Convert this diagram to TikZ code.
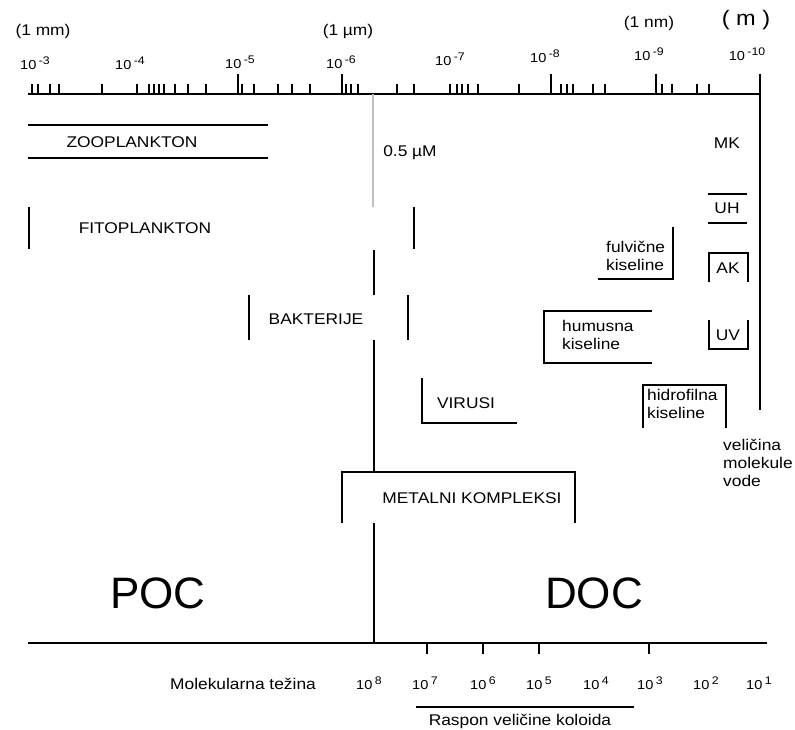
\documentclass[tikz,border=0pt]{standalone}
\usepackage{fontspec}
\setmainfont{Liberation Sans}[FakeStretch=1.12]
\newfontfamily\bigfont{Liberation Sans}
\newcommand{\tenpow}[1]{{\fontsize{13}{15}\selectfont 10}\hspace{2.5pt}\raisebox{5pt}{\fontsize{11}{13}\selectfont #1}}
\begin{document}
\begin{tikzpicture}[x=1pt,y=-1pt,
  ln/.style={line width=1.5pt,line cap=butt},
  thin/.style={line width=1.1pt},
  lbl/.style={inner sep=0pt,font=\fontsize{15.5}{18}\selectfont,align=left},
  tick/.style={inner sep=0pt},
  big/.style={inner sep=0pt,font=\bigfont\fontsize{44}{48}\selectfont}]
\useasboundingbox (0,0) rectangle (795,730);
% ---------- top axis ----------
\coordinate (ta0) at (28,94);
\coordinate (ta1) at (760,94);
\draw[ln] (ta0) -- (ta1);
\foreach \x in {32,38,50,59,102,137,149,154,159,164,175,188,206,242,254,278,292,310,346,351,358,397,414,450,457,462,468,478,519,561,567,573,593,605,662,672,697,709}
  \draw[thin] (\x,84) -- (\x,94);
\foreach \x in {238,342,551,656}
  \draw[thin] (\x,74) -- (\x,94);
\node[tick] (t3) at (35,63) {\tenpow{-3}};
\node[tick] (t4) at (130,63) {\tenpow{-4}};
\node[tick] (t5) at (240,62) {\tenpow{-5}};
\node[tick] (t6) at (341,62) {\tenpow{-6}};
\node[tick] (t7) at (450,59) {\tenpow{-7}};
\node[tick] (t8) at (545,56) {\tenpow{-8}};
\node[tick] (t9) at (649,54) {\tenpow{-9}};
\node[tick] (t10) at (747,54) {\tenpow{-10}};
\node[lbl] (mm) at (43,31) {(1 mm)};
\node[lbl] (um) at (348,31) {(1 µm)};
\node[lbl] (nm) at (649,23) {(1 nm)};
\node[lbl,font=\fontsize{21}{24}\selectfont] (munit) at (746,20) {( m )};
% ---------- right end line ----------
\coordinate (r0) at (760,74);
\coordinate (r1) at (760,410);
\draw[ln] (r0) -- (r1);
% ---------- central line ----------
\draw[line width=2.6pt,black!25] (373,94) -- (373,207);
\node[lbl] (half) at (410,153) {0.5 µM};
\draw[ln] (374,250) -- (374,295);
\draw[ln] (374,340) -- (374,472);
\draw[ln] (374,523) -- (374,643);
% ---------- organisms ----------
\node[lbl] (zoo) at (132,142) {ZOOPLANKTON};
\draw[ln] (28,125) -- (268,125);
\draw[ln] (28,158) -- (268,158);
\node[lbl] (fito) at (145,228) {FITOPLANKTON};
\draw[ln] (29,207) -- (29,249);
\draw[ln] (414,207) -- (414,249);
\node[lbl] (bakt) at (316,319) {BAKTERIJE};
\draw[ln] (249,295) -- (249,340);
\draw[ln] (408,295) -- (408,340);
\node[lbl] (vir) at (466,403) {VIRUSI};
\draw[ln] (422,378) -- (422,423) -- (517,423);
\node[lbl] (met) at (472,498) {METALNI KOMPLEKSI};
\draw[ln] (342,523) -- (342,472) -- (575,472) -- (575,523);
% ---------- dissolved compounds ----------
\node[lbl,anchor=west] (ful) at (606,256) {fulvične\\kiseline};
\draw[ln] (673,227) -- (673,279) -- (598,279);
\node[lbl,anchor=west] (hum) at (562,335) {humusna\\kiseline};
\draw[ln] (652,311) -- (544,311) -- (544,363) -- (652,363);
\node[lbl,anchor=west] (hid) at (647,404) {hidrofilna\\kiseline};
\draw[ln] (643,428) -- (643,385) -- (726,385) -- (726,428);
\node[lbl,anchor=west] (voda) at (723,463) {veličina\\molekule\\vode};
\node[lbl] (mk) at (727,143) {MK};
\node[lbl] (uh) at (727,208) {UH};
\draw[ln] (708,194) -- (747,194);
\draw[ln] (708,223) -- (747,223);
\node[lbl] (ak) at (728,268) {AK};
\draw[ln] (709,282) -- (709,253) -- (748,253) -- (748,282);
\node[lbl] (uv) at (728,335) {UV};
\draw[ln] (709,320) -- (709,349) -- (748,349) -- (748,320);
% ---------- POC / DOC ----------
\node[big] (poc) at (158,593) {POC};
\node[big] (doc) at (594,593) {DOC};
% ---------- bottom axis ----------
\coordinate (ba0) at (28,643);
\coordinate (ba1) at (767,643);
\draw[ln] (ba0) -- (ba1);
\foreach \x in {427,483,539,649}
  \draw[thin] (\x,643) -- (\x,654);
\node[lbl] (mw) at (243,684) {Molekularna težina};
\node[tick] (b8) at (369,683) {\tenpow{8}};
\node[tick] (b7) at (425,683) {\tenpow{7}};
\node[tick] (b6) at (483,683) {\tenpow{6}};
\node[tick] (b5) at (539,683) {\tenpow{5}};
\node[tick] (b4) at (596,683) {\tenpow{4}};
\node[tick] (b3) at (650,683) {\tenpow{3}};
\node[tick] (b2) at (706,683) {\tenpow{2}};
\node[tick] (b1) at (759,683) {\tenpow{1}};
\draw[ln] (416,707) -- (634,707);
\node[lbl] (rasp) at (520,721) {Raspon veličine koloida};
\end{tikzpicture}
\end{document}
